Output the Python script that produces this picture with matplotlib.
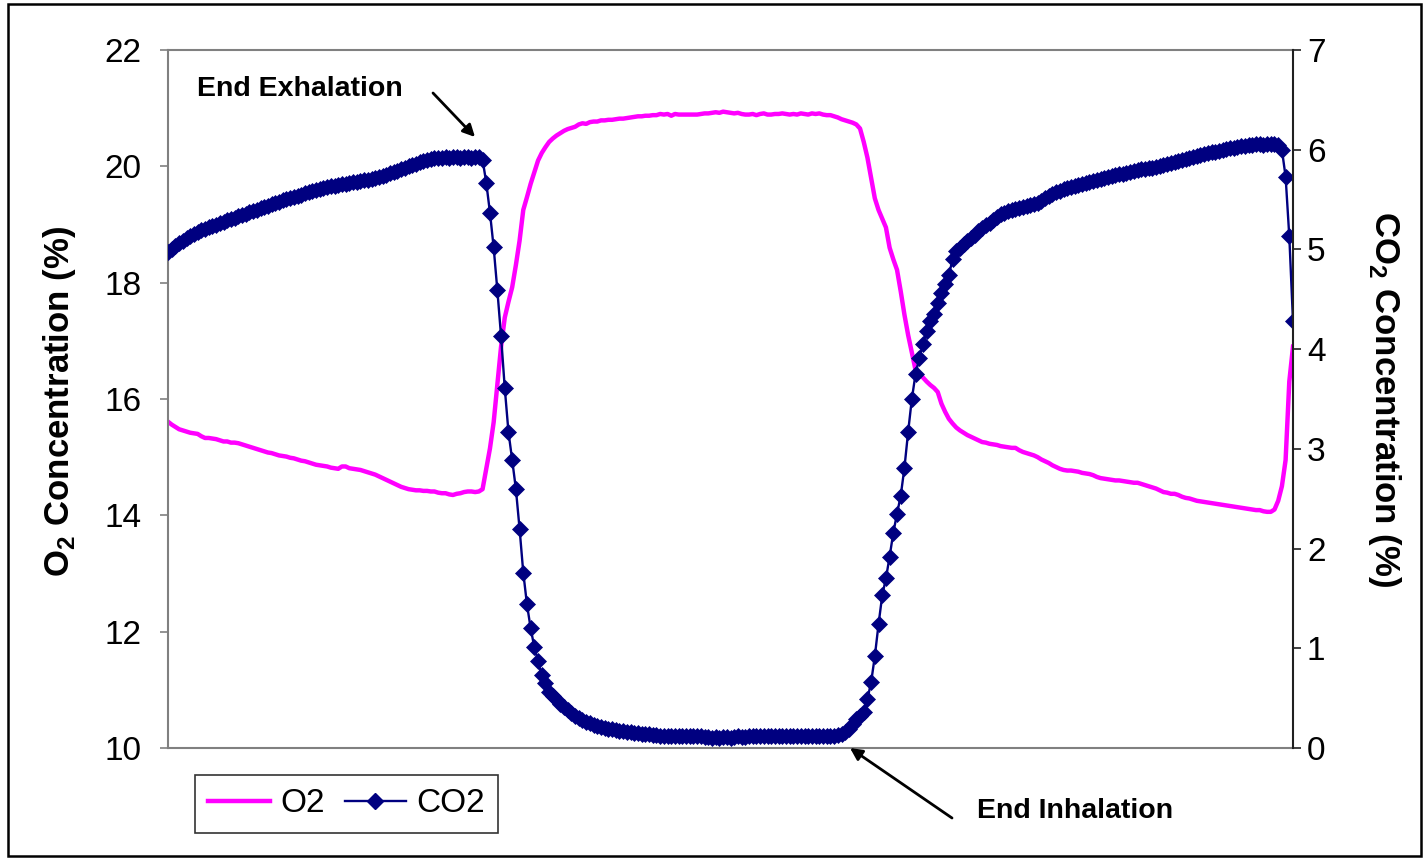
import numpy as np
import matplotlib
matplotlib.use("Agg")
import matplotlib.pyplot as plt
from matplotlib.patches import Rectangle
from matplotlib.lines import Line2D

plt.rcParams['font.family'] = ['Liberation Sans', 'DejaVu Sans']
plt.rcParams['mathtext.fontset'] = 'custom'
plt.rcParams['mathtext.rm'] = 'Liberation Sans'
plt.rcParams['mathtext.bf'] = 'Liberation Sans:bold'

# ---------------- data ----------------
o2 = [
    15.61, 15.56, 15.52, 15.48, 15.46, 15.44, 15.42, 15.41, 15.40, 15.36,
    15.33, 15.33, 15.32, 15.31, 15.29, 15.27, 15.27, 15.25, 15.25, 15.24,
    15.22, 15.20, 15.18, 15.16, 15.14, 15.12, 15.10, 15.08, 15.07, 15.05,
    15.03, 15.02, 15.01, 14.99, 14.98, 14.96, 14.94, 14.93, 14.91, 14.89,
    14.87, 14.86, 14.85, 14.84, 14.82, 14.81, 14.80, 14.84, 14.84, 14.81,
    14.80, 14.79, 14.78, 14.76, 14.74, 14.72, 14.70, 14.67, 14.64, 14.61,
    14.58, 14.55, 14.52, 14.49, 14.47, 14.45, 14.44, 14.43, 14.43, 14.42,
    14.42, 14.41, 14.41, 14.39, 14.38, 14.38, 14.36, 14.35, 14.37, 14.38,
    14.40, 14.41, 14.41, 14.40, 14.41, 14.45, 14.80, 15.15, 15.60, 16.25,
    16.90, 17.40, 17.67, 17.92, 18.30, 18.72, 19.25, 19.47, 19.70, 19.90,
    20.10, 20.23, 20.33, 20.42, 20.48, 20.53, 20.57, 20.61, 20.64, 20.66,
    20.68, 20.72, 20.74, 20.73, 20.76, 20.77, 20.77, 20.79, 20.79, 20.80,
    20.80, 20.81, 20.82, 20.82, 20.83, 20.84, 20.85, 20.86, 20.86, 20.87,
    20.87, 20.88, 20.88, 20.90, 20.89, 20.90, 20.87, 20.90, 20.89, 20.89,
    20.89, 20.89, 20.89, 20.89, 20.90, 20.91, 20.91, 20.92, 20.93, 20.92,
    20.94, 20.93, 20.92, 20.91, 20.92, 20.90, 20.89, 20.89, 20.90, 20.88,
    20.90, 20.91, 20.89, 20.89, 20.90, 20.90, 20.91, 20.90, 20.89, 20.90,
    20.89, 20.91, 20.90, 20.89, 20.91, 20.90, 20.91, 20.89, 20.88, 20.88,
    20.86, 20.84, 20.81, 20.79, 20.77, 20.75, 20.72, 20.65, 20.42, 20.15,
    19.80, 19.45, 19.25, 19.10, 18.95, 18.60, 18.40, 18.22, 17.85, 17.45,
    17.10, 16.80, 16.50, 16.42, 16.37, 16.30, 16.24, 16.19, 16.12, 15.92,
    15.78, 15.66, 15.58, 15.51, 15.46, 15.42, 15.38, 15.35, 15.32, 15.29,
    15.26, 15.25, 15.23, 15.22, 15.21, 15.19, 15.18, 15.17, 15.16, 15.16,
    15.12, 15.09, 15.07, 15.05, 15.03, 15.00, 14.96, 14.93, 14.90, 14.86,
    14.83, 14.80, 14.78, 14.77, 14.77, 14.76, 14.75, 14.73, 14.72, 14.71,
    14.69, 14.66, 14.64, 14.63, 14.62, 14.61, 14.60, 14.60, 14.59, 14.58,
    14.57, 14.56, 14.56, 14.54, 14.52, 14.50, 14.48, 14.46, 14.43, 14.40,
    14.39, 14.37, 14.37, 14.35, 14.32, 14.30, 14.29, 14.27, 14.25, 14.24,
    14.23, 14.22, 14.21, 14.20, 14.19, 14.18, 14.17, 14.16, 14.15, 14.14,
    14.13, 14.12, 14.11, 14.10, 14.09, 14.09, 14.07, 14.06, 14.06, 14.10,
    14.25, 14.50, 14.95, 16.30, 16.90,
]

co2 = [
    4.97, 5.00, 5.03, 5.06, 5.08, 5.11, 5.13, 5.15, 5.17, 5.19,
    5.20, 5.22, 5.23, 5.25, 5.27, 5.28, 5.30, 5.31, 5.32, 5.34,
    5.35, 5.36, 5.38, 5.39, 5.40, 5.42, 5.43, 5.44, 5.46, 5.47,
    5.48, 5.50, 5.51, 5.52, 5.53, 5.54, 5.55, 5.57, 5.58, 5.59,
    5.60, 5.61, 5.62, 5.63, 5.64, 5.64, 5.65, 5.66, 5.66, 5.67,
    5.68, 5.68, 5.69, 5.70, 5.70, 5.71, 5.72, 5.73, 5.74, 5.75,
    5.77, 5.78, 5.79, 5.81, 5.82, 5.84, 5.85, 5.86, 5.88, 5.89,
    5.90, 5.91, 5.92, 5.92, 5.92, 5.93, 5.92, 5.93, 5.93, 5.92,
    5.93, 5.93, 5.92, 5.93, 5.93, 5.90,
    5.67, 5.37, 5.02, 4.59, 4.13, 3.61, 3.17, 2.89, 2.60, 2.20,
    1.76, 1.44, 1.20, 1.01, 0.87, 0.73, 0.65, 0.56,
    0.52, 0.48, 0.44, 0.41, 0.38, 0.35, 0.32, 0.30, 0.28, 0.26,
    0.25, 0.23, 0.22, 0.21, 0.20, 0.19, 0.19, 0.18, 0.17, 0.17,
    0.16, 0.16, 0.15, 0.15, 0.14, 0.14, 0.14, 0.13, 0.13, 0.12,
    0.12, 0.12, 0.12, 0.12, 0.12, 0.12, 0.12, 0.12, 0.12, 0.12,
    0.12, 0.11, 0.11, 0.10, 0.11, 0.10, 0.11, 0.11, 0.10, 0.11,
    0.12, 0.11, 0.11, 0.12, 0.12, 0.12, 0.12, 0.12, 0.12, 0.12,
    0.12, 0.12, 0.12, 0.12, 0.12, 0.12, 0.12, 0.12, 0.12, 0.12,
    0.12, 0.12, 0.12, 0.12, 0.12, 0.12, 0.12, 0.13, 0.14,
    0.16, 0.19, 0.24, 0.29, 0.32, 0.36,
    0.49, 0.66, 0.92, 1.24, 1.53, 1.70, 1.92, 2.16, 2.35, 2.53,
    2.81, 3.17, 3.50, 3.75, 3.91, 4.05, 4.18,
    4.28, 4.35, 4.46, 4.56, 4.65, 4.74, 4.90, 4.98,
    5.01, 5.05, 5.08, 5.11, 5.14, 5.18, 5.21, 5.24, 5.27, 5.30,
    5.33, 5.36, 5.37, 5.39, 5.40, 5.41, 5.42, 5.43, 5.44, 5.45,
    5.46, 5.47, 5.49, 5.52, 5.54, 5.56, 5.58, 5.59, 5.61, 5.62,
    5.63, 5.64, 5.65, 5.66, 5.67, 5.68, 5.69, 5.70, 5.71, 5.72,
    5.73, 5.74, 5.75, 5.76, 5.76, 5.77, 5.78, 5.79, 5.80, 5.81,
    5.81, 5.82, 5.82, 5.83, 5.84, 5.85, 5.86, 5.87, 5.88, 5.89,
    5.90, 5.91, 5.92, 5.93, 5.94, 5.95, 5.96, 5.97, 5.98, 5.98,
    5.99, 6.00, 6.01, 6.02, 6.02, 6.03, 6.04, 6.04, 6.05, 6.05,
    6.06, 6.06, 6.05, 6.06, 6.06, 6.06, 6.05,
    6.00, 5.73, 5.13, 4.28,
]

o2_ticks = [10, 12, 14, 16, 18, 20, 22]
co2_ticks = [0, 1, 2, 3, 4, 5, 6, 7]
series_names = ["O2", "CO2"]

# ---------------- figure ----------------
W, H = 1427, 859
fig = plt.figure(figsize=(W / 100, H / 100), dpi=100)
ax = fig.add_axes([168 / W, (H - 748) / H, 1125 / W, 698 / H])
ax2 = ax.twinx()

t = np.arange(len(o2))
t2 = np.arange(len(co2))

magenta = '#FF00FF'
navy = '#000080'
MS = 8.5

ax.plot(t, o2, color=magenta, lw=3.2, solid_joinstyle='round')
ax2.plot(t2, co2, color=navy, lw=1.7, marker='D', markersize=MS,
         markerfacecolor=navy, markeredgecolor=navy, markeredgewidth=0.5)

ax.set_xlim(0, len(o2) - 1)
ax.set_ylim(10, 22)
ax2.set_ylim(0, 7)
ax.set_yticks(o2_ticks)
ax2.set_yticks(co2_ticks)
ax.set_xticks([])

gray = '#808080'
for s in ['left', 'bottom', 'top']:
    ax.spines[s].set_color(gray)
    ax.spines[s].set_linewidth(1.5)
ax.spines['right'].set_visible(False)
for s in ['left', 'bottom', 'top']:
    ax2.spines[s].set_visible(False)
ax2.spines['right'].set_color('#202020')
ax2.spines['right'].set_linewidth(1.5)

ax.tick_params(axis='y', direction='out', length=6, width=1.2, color=gray,
               labelsize=24, pad=13)
ax2.tick_params(axis='y', direction='out', length=6, width=1.2, color='#202020',
                labelsize=24, pad=4)

# axis titles
fig.text(60 / W, 1 - 401 / H, r'O$_\mathbf{2}$ Concentration (%)', rotation=90,
         ha='center', va='center', fontsize=25, fontweight='bold')
fig.text(1385 / W, 1 - 399 / H, r'CO$_\mathbf{2}$ Concentration (%)', rotation=270,
         ha='center', va='center', fontsize=25, fontweight='bold')

# legend
handles = [Line2D([], [], color=magenta, lw=3.2),
           Line2D([], [], color=navy, lw=1.7, marker='D', markersize=MS)]
leg = fig.legend(handles, series_names, loc='upper left',
                 bbox_to_anchor=(195 / W, 1 - 775 / H), ncol=2, fontsize=24,
                 frameon=True, fancybox=False, borderpad=0.4, handlelength=1.85,
                 handletextpad=0.3, columnspacing=0.6, borderaxespad=0)
leg.get_frame().set_edgecolor('black')
leg.get_frame().set_linewidth(1.2)

# annotations
fig.text(197 / W, 1 - 89 / H, 'End Exhalation', ha='left', va='center',
         fontsize=20.5, fontweight='bold')
fig.text(977 / W, 1 - 811 / H, 'End Inhalation', ha='left', va='center',
         fontsize=20.5, fontweight='bold')
ax.annotate('', xy=(475 / W, 1 - 137 / H), xytext=(433 / W, 1 - 93 / H),
            xycoords='figure fraction', textcoords='figure fraction',
            arrowprops=dict(arrowstyle='-|>', color='black', lw=2.0,
                            mutation_scale=18, shrinkA=0, shrinkB=0))
ax.annotate('', xy=(850 / W, 1 - 748 / H), xytext=(952 / W, 1 - 818 / H),
            xycoords='figure fraction', textcoords='figure fraction',
            arrowprops=dict(arrowstyle='-|>', color='black', lw=2.0,
                            mutation_scale=18, shrinkA=0, shrinkB=0),
            annotation_clip=False)

# outer border
fig.add_artist(Rectangle((8 / W, 3 / H), (1421 - 8) / W, (856 - 4) / H,
                         transform=fig.transFigure, fill=False,
                         edgecolor='black', linewidth=1.8))

fig.savefig('out.png', dpi=100)
